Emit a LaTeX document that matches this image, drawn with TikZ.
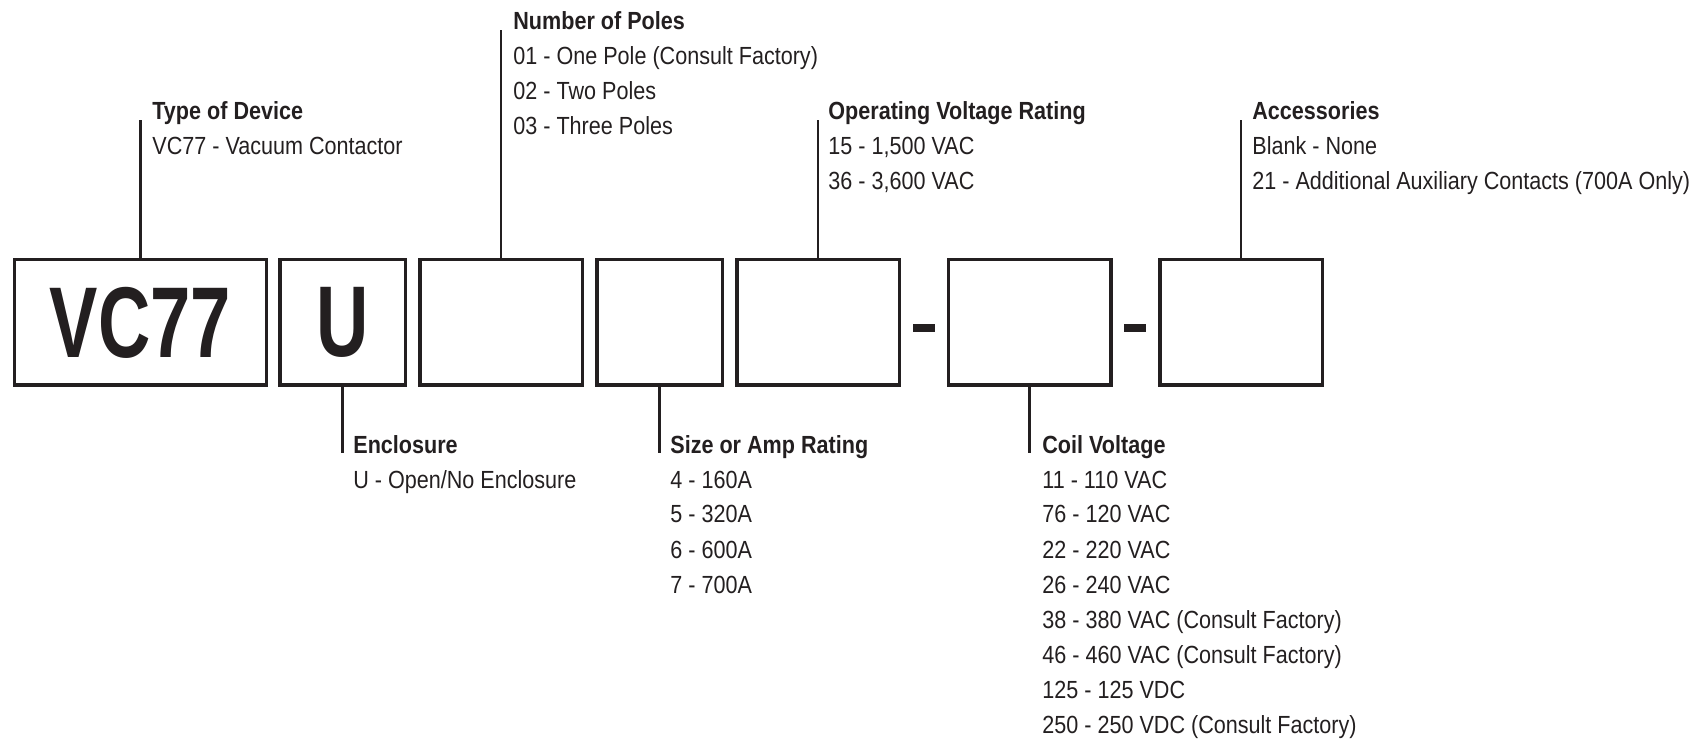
\documentclass[tikz,border=0pt]{standalone}
\usepackage{fontspec}
\setmainfont{Liberation Sans}[FakeStretch=0.87]
\newfontfamily\codefont{Liberation Sans}[FakeStretch=0.72]
\usepackage{xcolor}
\usepackage{tikz}
\usetikzlibrary{positioning}
\definecolor{ink}{RGB}{35,31,32}

\begin{document}
\begin{tikzpicture}[x=0.5pt,y=-0.5pt,
  slot/.style={draw=ink,line width=1.75pt,minimum height=62.75pt,inner sep=0pt,text=ink,font=\codefont\bfseries\fontsize{50.3}{50.3}\selectfont},
  wide/.style={slot,minimum width=81.25pt},
  sq/.style={slot,minimum width=62.75pt},
  hd/.style={anchor=base west,inner sep=0pt,text=ink,font=\bfseries\fontsize{12.4}{17.5}\selectfont},
  it/.style={anchor=base west,inner sep=0pt,text=ink,font=\fontsize{12.4}{17.5}\selectfont},
  lead/.style={draw=ink,line width=1.25pt},
  bar/.style={fill=ink,inner sep=0pt,minimum width=11pt,minimum height=4pt}]
  \useasboundingbox (0,0) rectangle (1706,742);
  \node[slot,minimum width=125.9pt] (vc) at (140.4,322.5) {VC77};
  \node[sq] (encl) at (342.5,322.5) {U};
  \node[wide] (poles) at (501,322.5) {};
  \node[sq] (amps) at (659.5,322.5) {};
  \node[wide] (opv) at (818,322.5) {};
  \node[bar] (dashA) at (924,328) {};
  \node[wide] (coil) at (1029.5,322.5) {};
  \node[bar] (dashB) at (1135,328) {};
  \node[wide] (acc) at (1241,322.5) {};
  \node[hd] (typeH) at (152,120) {Type of Device}; \node[it] (typeL1) at (152,155) {VC77 - Vacuum Contactor};
  \node[hd] (polesH) at (513,30) {Number of Poles};
  \foreach \txt [count=\i] in {01 - One Pole (Consult Factory),02 - Two Poles,03 - Three Poles}
    \node[it] (polesL\i) at (513,30+35*\i) {\txt};
  \node[hd] (opvH) at (828,120) {Operating Voltage Rating};
  \foreach \txt [count=\i] in {{15 - 1,500 VAC},{36 - 3,600 VAC}}
    \node[it] (opvL\i) at (828,120+35*\i) {\txt};
  \node[hd] (accH) at (1252,120) {Accessories};
  \foreach \txt [count=\i] in {Blank - None,21 - Additional Auxiliary Contacts (700A Only)}
    \node[it] (accL\i) at (1252,120+35*\i) {\txt};
  \node[hd] (enclH) at (353,453) {Enclosure}; \node[it] (enclL1) at (353,488) {U - Open/No Enclosure};
  \node[hd] (ampsH) at (670,453) {Size or Amp Rating};
  \foreach \txt [count=\i] in {4 - 160A,5 - 320A,6 - 600A,7 - 700A}
    \node[it] (ampsL\i) at (670,453+35*\i) {\txt};
  \node[hd] (coilH) at (1042,453) {Coil Voltage};
  \foreach \txt [count=\i] in {11 - 110 VAC,76 - 120 VAC,22 - 220 VAC,26 - 240 VAC,38 - 380 VAC (Consult Factory),46 - 460 VAC (Consult Factory),125 - 125 VDC,250 - 250 VDC (Consult Factory)}
    \node[it] (coilL\i) at (1042,453+35*\i) {\txt};
  \draw[lead] (vc.north) -- (vc.north |- typeH.base); \draw[lead] (poles.north) -- (poles.north |- polesH.base);
  \draw[lead] (opv.north) -- (opv.north |- opvH.base); \draw[lead] (acc.north) -- (acc.north |- accH.base);
  \draw[lead] (encl.south) -- (encl.south |- enclH.base); \draw[lead] (amps.south) -- (amps.south |- ampsH.base);
  \draw[lead] (coil.south) -- (coil.south |- coilH.base);
\end{tikzpicture}
\end{document}
